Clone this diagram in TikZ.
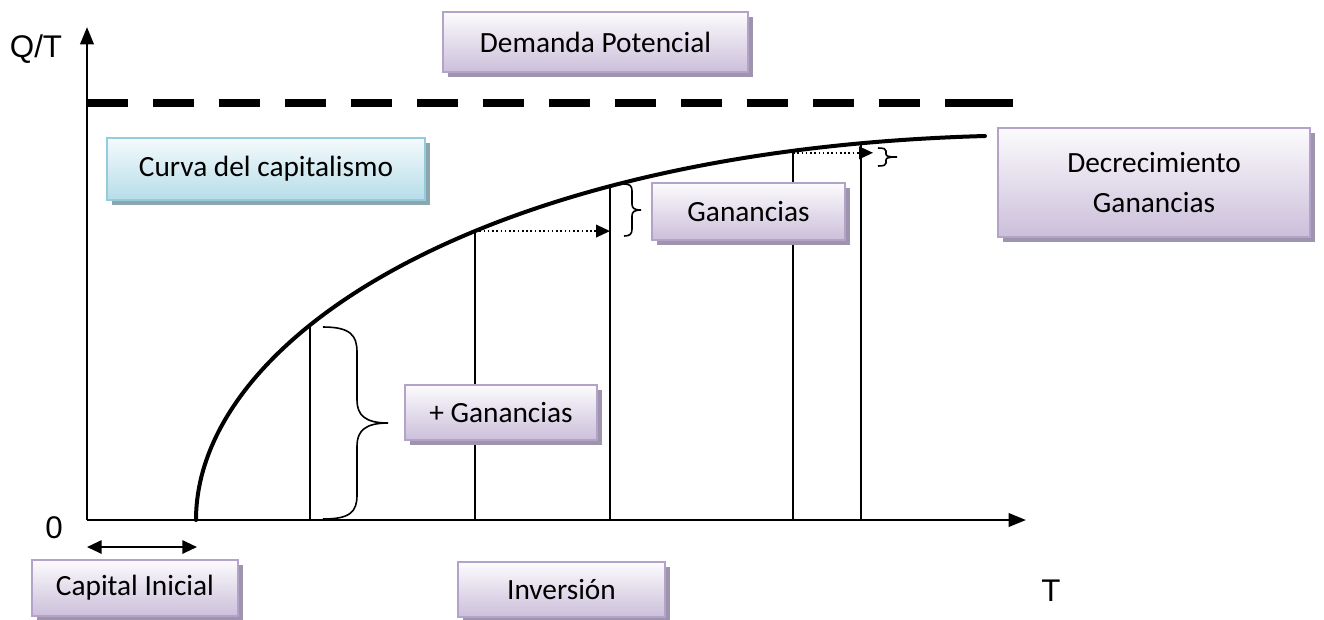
\documentclass[tikz,border=0pt]{standalone}
\usepackage{fontspec}
\setmainfont{Carlito}
\newfontfamily\arialf{Liberation Sans}
\usetikzlibrary{arrows.meta,shadows,intersections}
\definecolor{pbot}{HTML}{CBBFDA}
\definecolor{ptop}{HTML}{FCFBFD}
\definecolor{pborder}{HTML}{B4A3C8}
\definecolor{pshadow}{HTML}{9F94AD}
\definecolor{cbot}{HTML}{B6DDE8}
\definecolor{ctop}{HTML}{F4FAFC}
\definecolor{cborder}{HTML}{93CDDD}
\definecolor{cshadow}{HTML}{8DA6AE}
\begin{document}
\begin{tikzpicture}[x=0.75pt,y=-0.75pt,
  boxtext/.style={font=\fontsize{22}{30}\selectfont, text=black, inner sep=0pt, align=center},
  pbox/.style={boxtext, draw=pborder, line width=1.5pt, top color=ptop, bottom color=pbot,
     drop shadow={shadow xshift=3.5pt, shadow yshift=-4pt, fill=pshadow, opacity=1}},
  cbox/.style={boxtext, draw=cborder, line width=1.5pt, top color=ctop, bottom color=cbot,
     drop shadow={shadow xshift=3.5pt, shadow yshift=-4pt, fill=cshadow, opacity=1}},
  axis/.style={line width=2pt, -{Triangle[length=13pt,width=10pt]}},
  guide/.style={line width=1.2pt},
  dotarrow/.style={line width=1.2pt, dotted, -{Triangle[length=10.5pt,width=9.5pt]}},
  bracestyle/.style={line width=1.2pt},
  axlabel/.style={font=\arialf\fontsize{23.5}{28}\selectfont, inner sep=0pt}]
\useasboundingbox (0,0) rectangle (1324,619);

% axes
\coordinate (O) at (87,520);
\coordinate (Ytop) at (87,27);
\coordinate (Xend) at (1026,520);
\draw[axis] (O) -- (Ytop);
\draw[axis] (O) -- (Xend);

% potential demand dashed line
\coordinate (D0) at (87,103);
\coordinate (D1) at (985,103);
\coordinate (D2) at (945,103);
\coordinate (D3) at (1013,103);
\draw[line width=6pt, dash pattern=on 31pt off 18.5pt] (D0) -- (D1);
\draw[line width=6pt] (D2) -- (D3);

% curve
\coordinate (K0) at (196,520);
\coordinate (K3) at (985,136);
\draw[name path=curve, line width=3pt, line cap=round]
  (K0) .. controls (196,340) and (480,150) .. (K3);

% vertical guide lines (from the axis up to the curve)
\foreach \n/\x in {a/310, b/475, c/610, d/793, e/861}{
  \coordinate (B\n) at (\x,520);
  \path[name path=v\n] (\x,525) -- (\x,90);
  \path[name intersections={of=curve and v\n, by={T\n}}];
  \draw[guide] (B\n) -- (T\n);
}

% dotted arrows
\draw[dotarrow] (Tb) -- (Tb -| Bc);
\coordinate (P4) at (873,0);
\draw[dotarrow] ([yshift=-1.5pt]Td) -- ([yshift=-1.5pt]Td -| P4);

% braces
\draw[bracestyle] (323,327) .. controls (350,327) and (357,335) .. (357,352)
  -- (357,400) .. controls (357,415) and (365,423) .. (388,423)
  .. controls (365,423) and (357,431) .. (357,446)
  -- (357,495) .. controls (357,512) and (350,519) .. (323,519);
\draw[bracestyle] (624,184) .. controls (630,184) and (632,186) .. (632,191)
  -- (632,204) .. controls (632,208) and (634,210) .. (641,210)
  .. controls (634,210) and (632,212) .. (632,216)
  -- (632,229) .. controls (632,234) and (630,236) .. (624,236);
\draw[bracestyle] (878,148) .. controls (884,148) and (886,149) .. (886,151)
  -- (886,154) .. controls (886,156) and (888,157) .. (897,157)
  .. controls (888,157) and (886,158) .. (886,160)
  -- (886,163) .. controls (886,165) and (884,166) .. (878,166);

% capital inicial double arrow
\coordinate (C0) at (87,547);
\coordinate (C1) at (197,547);
\draw[line width=1.5pt, {Triangle[length=11pt,width=10pt]}-{Triangle[length=11pt,width=10pt]}] (C0) -- (C1);

% axis labels
\node[axlabel] (qt) at (36,49) {Q/T};
\node[axlabel] (zero) at (54,528) {0};
\node[axlabel] (tlab) at (1051,591) {T};

% boxes
\node[pbox, minimum width=228.75pt, minimum height=45pt] (demanda) at (595.5,42) {Demanda Potencial};
\node[cbox, minimum width=238.5pt, minimum height=46.5pt] (curva) at (266,169) {Curva del capitalismo};
\node[pbox, minimum width=144.75pt, minimum height=42.75pt] (gan) at (748.5,211.5) {Ganancias};
\node[pbox, minimum width=234pt, minimum height=81.75pt] (decre) at (1154,182.5) {Decrecimiento\\Ganancias};
\node[pbox, minimum width=144pt, minimum height=41.25pt] (masgan) at (501,412.5) {+ Ganancias};
\node[pbox, minimum width=154.5pt, minimum height=42pt] (capital) at (135,588) {Capital Inicial};
\node[pbox, minimum width=155.25pt, minimum height=41.25pt] (inversion) at (561.5,589.5) {Inversión};
\end{tikzpicture}
\end{document}
